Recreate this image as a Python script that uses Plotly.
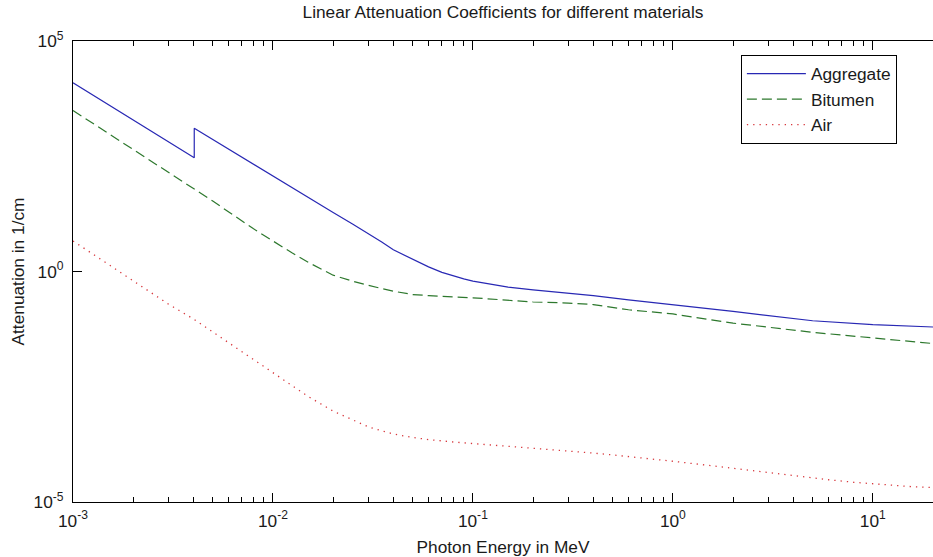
import plotly.graph_objects as go

# ---- data ----
energy_agg = [0.001, 0.002, 0.003, 0.00404, 0.00404, 0.006, 0.008, 0.01, 0.015, 0.02,
              0.025, 0.03, 0.035, 0.04, 0.05, 0.06, 0.07, 0.08, 0.09, 0.1, 0.125, 0.15,
              0.2, 0.3, 0.4, 0.6, 1.0, 2.0, 5.0, 10.0, 20.0]
mu_agg = [12450, 1936, 653, 294, 1276, 447, 208, 115, 39.8, 19.05,
          10.7, 6.61, 4.37, 2.95, 1.82, 1.26, 0.955, 0.794, 0.692, 0.617, 0.513, 0.457,
          0.398, 0.339, 0.300, 0.243, 0.187, 0.136, 0.0855, 0.0706, 0.0625]

energy_bit = [0.001, 0.002, 0.003, 0.005, 0.008, 0.01, 0.0125, 0.015, 0.0175, 0.02, 0.025,
              0.03, 0.04, 0.05, 0.06, 0.08, 0.1, 0.2, 0.3, 0.4, 0.6, 1.0, 2.0, 5.0, 10.0, 20.0]
mu_bit = [3105, 443, 142, 33.7, 8.41, 4.57, 2.51, 1.585, 1.122, 0.832, 0.617,
          0.50, 0.374, 0.316, 0.300, 0.282, 0.269, 0.218, 0.207, 0.192, 0.148, 0.120,
          0.0759, 0.0479, 0.0360, 0.0274]

energy_air = [0.001, 0.0015, 0.002, 0.003, 0.004, 0.005, 0.006, 0.008, 0.01, 0.015, 0.02,
              0.025, 0.03, 0.035, 0.04, 0.05, 0.06, 0.08, 0.1, 0.15, 0.2, 0.3, 0.4, 0.5,
              0.6, 0.8, 1.0, 1.5, 2.0, 3.0, 4.0, 5.0, 6.0, 8.0, 10.0, 15.0, 20.0]
mu_air = [4.6, 1.435, 0.636, 0.196, 0.0938, 0.0485, 0.0282, 0.01195, 6.17e-3, 1.945e-3, 9.37e-4,
          6.03e-4, 4.26e-4, 3.51e-4, 2.99e-4, 2.51e-4, 2.26e-4, 2.00e-4, 1.857e-4, 1.634e-4,
          1.486e-4, 1.286e-4, 1.151e-4, 1.050e-4, 9.71e-5, 8.52e-5, 7.66e-5, 6.24e-5, 5.36e-5,
          4.32e-5, 3.71e-5, 3.31e-5, 3.04e-5, 2.68e-5, 2.46e-5, 2.18e-5, 2.05e-5]

x_tickvals = [1e-3, 1e-2, 1e-1, 1e0, 1e1]
x_ticktext = ["10<sup>-3</sup>", "10<sup>-2</sup>", "10<sup>-1</sup>", "10<sup>0</sup>", "10<sup>1</sup>"]
x_minor = [m * d for d in [1e-3, 1e-2, 1e-1, 1e0, 1e1] for m in range(2, 10) if m * d <= 20]
y_tickvals = [1e-5, 1e0, 1e5]
y_ticktext = ["10<sup>-5</sup>", "10<sup>0</sup>", "10<sup>5</sup>"]

FONT = "Liberation Sans, Arial, sans-serif"
FS = 17.3
TXT = "#1a1a1a"

fig = go.Figure()
fig.add_trace(go.Scatter(x=energy_agg, y=mu_agg, mode="lines", name="Aggregate",
                         line=dict(color="rgb(40,40,180)", width=1.2)))
fig.add_trace(go.Scatter(x=energy_bit, y=mu_bit, mode="lines", name="Bitumen",
                         line=dict(color="rgb(45,120,45)", width=1.2, dash="10px,5px")))
fig.add_trace(go.Scatter(x=energy_air, y=mu_air, mode="lines", name="Air",
                         line=dict(color="rgb(215,55,60)", width=1.3, dash="1.3px,5px")))

fig.update_layout(
    width=933, height=557,
    margin=dict(l=73, r=0, t=41, b=55, autoexpand=False),
    paper_bgcolor="white", plot_bgcolor="white",
    font=dict(family=FONT, size=FS, color=TXT),
    title=dict(text="Linear Attenuation Coefficients for different materials",
               x=0.5, xref="paper", xanchor="center", y=1 - 12 / 557, yanchor="middle",
               font=dict(size=FS, family=FONT, color=TXT), automargin=False),
    showlegend=True,
    legend=dict(x=0.958, y=0.97, xanchor="right", yanchor="top",
                bordercolor="black", borderwidth=1, bgcolor="white",
                font=dict(size=FS, family=FONT, color=TXT),
                tracegroupgap=0, itemwidth=59),
)

fig.update_xaxes(
    type="log", range=[-3, 1.30103], automargin=False,
    showline=True, linecolor="black", linewidth=1, mirror="allticks",
    ticks="inside", ticklen=9, tickcolor="black", tickwidth=1,
    tickmode="array", tickvals=x_tickvals, ticktext=x_ticktext,
    tickfont=dict(size=FS, family=FONT, color=TXT), ticklabelstandoff=3,
    minor=dict(tickmode="array", tickvals=x_minor, ticks="inside", ticklen=5,
               tickcolor="black", tickwidth=1, showgrid=False),
    showgrid=False, zeroline=False,
    title=dict(text="Photon Energy in MeV", standoff=12,
               font=dict(size=FS, family=FONT, color=TXT)),
)
fig.update_yaxes(
    type="log", range=[-5, 5], automargin=False,
    showline=True, linecolor="black", linewidth=1, mirror=False,
    ticks="inside", ticklen=9, tickcolor="black", tickwidth=1,
    tickmode="array", tickvals=y_tickvals, ticktext=y_ticktext,
    tickfont=dict(size=FS, family=FONT, color=TXT), ticklabelstandoff=5,
    showgrid=False, zeroline=False,
    title=dict(text="Attenuation in 1/cm", standoff=4,
               font=dict(size=FS, family=FONT, color=TXT)),
)

fig.write_html("out.html", config={"displayModeBar": False},
               post_script="document.body.style.margin='0';document.body.style.overflow='hidden';")
